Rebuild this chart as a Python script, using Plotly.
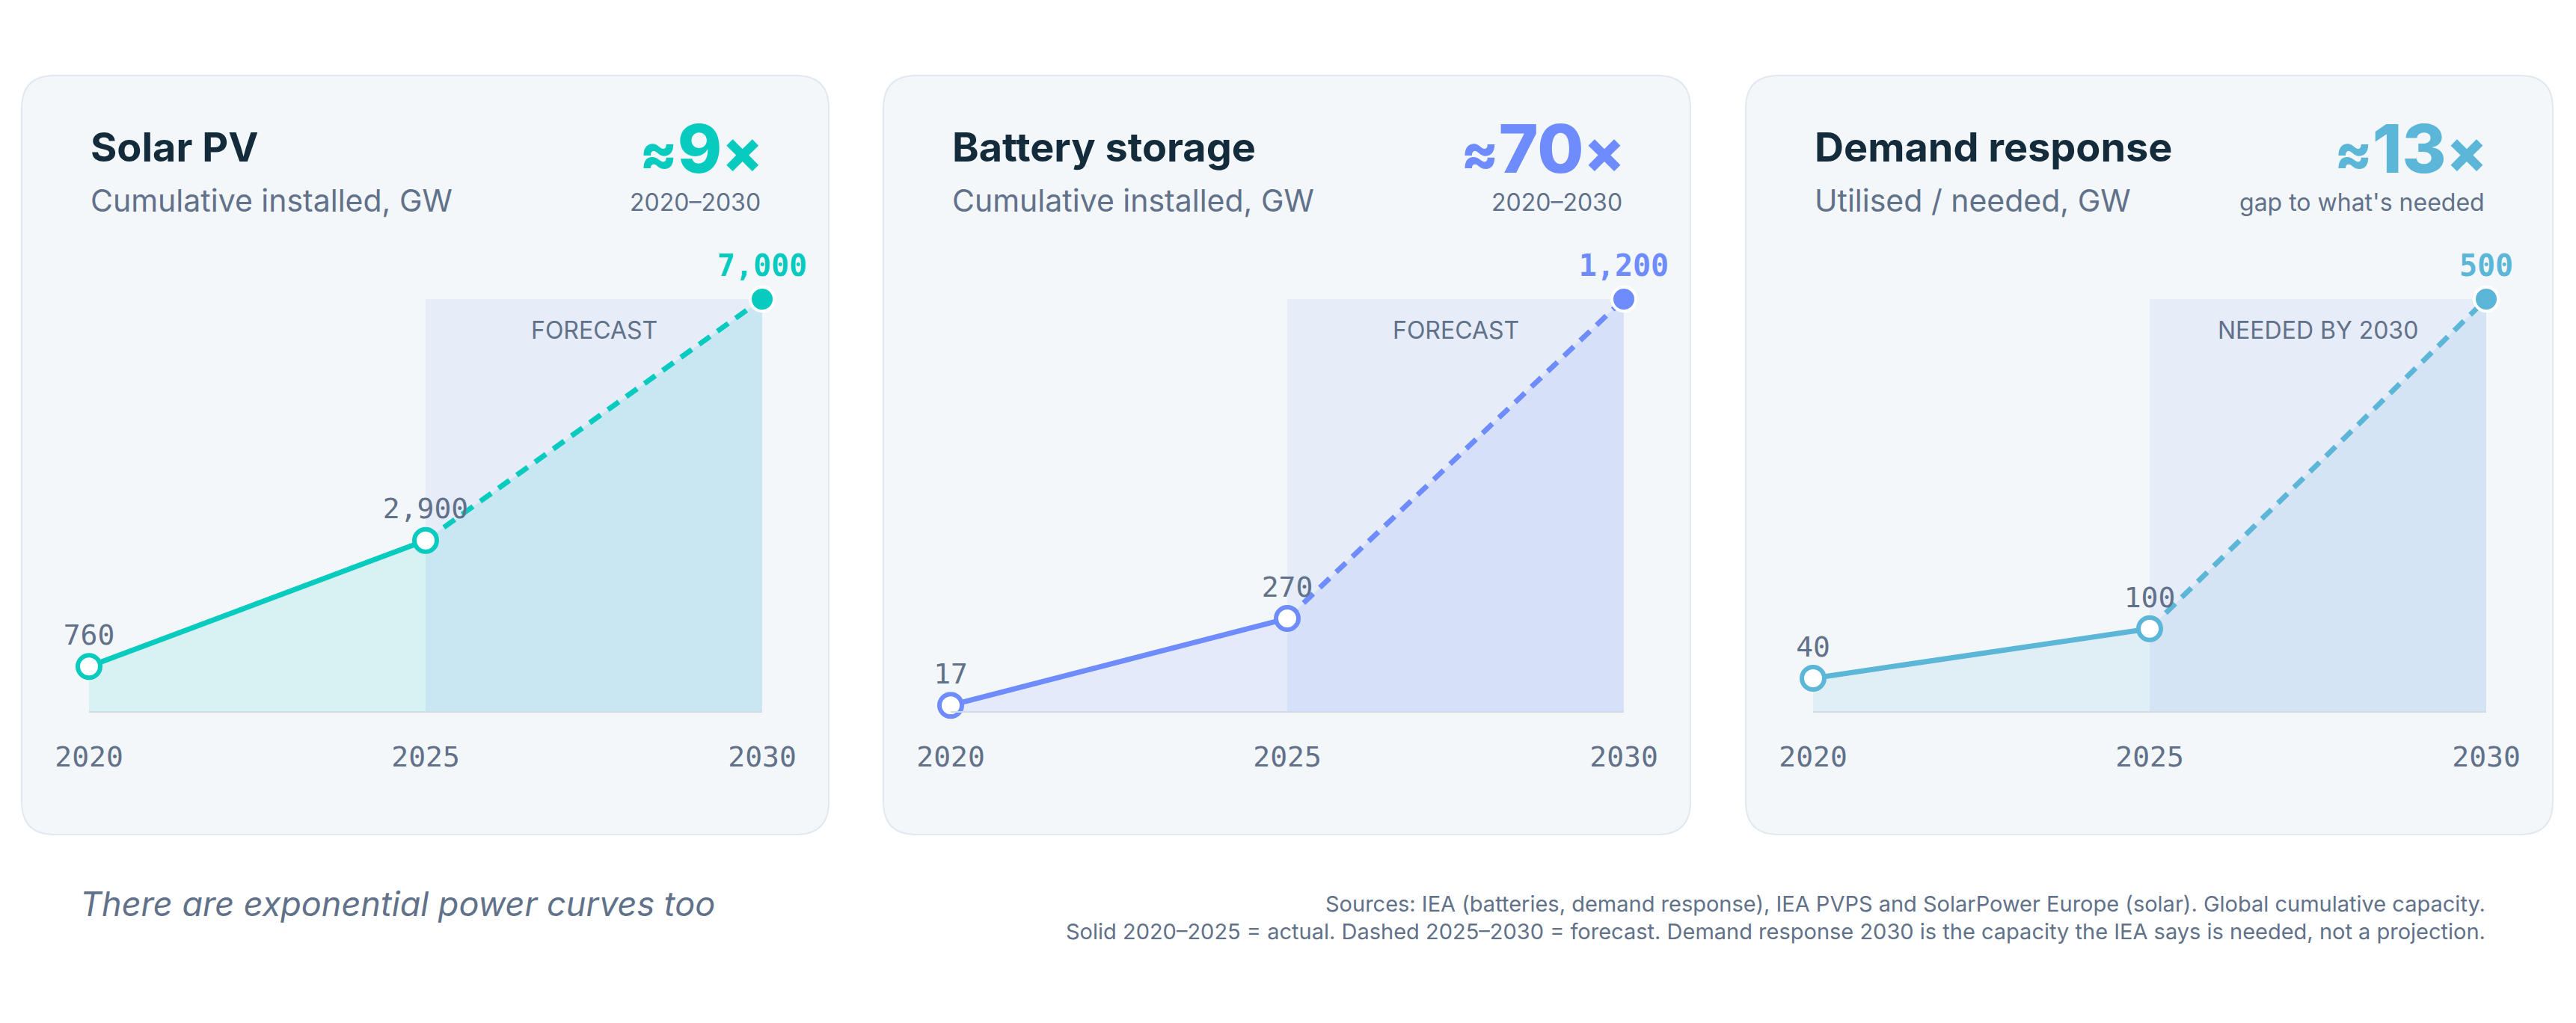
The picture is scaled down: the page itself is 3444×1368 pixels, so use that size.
import plotly.graph_objects as go

W, H = 3444, 1368

# ---------------- data ----------------
years = [2020, 2025, 2030]
year_labels = ["2020", "2025", "2030"]

solar_values = [760, 2900, 7000]
solar_labels = ["760", "2,900", "7,000"]

battery_values = [17, 270, 1200]
battery_labels = ["17", "270", "1,200"]

demand_values = [40, 100, 500]
demand_labels = ["40", "100", "500"]

titles = ["Solar PV", "Battery storage", "Demand response"]
subtitles = ["Cumulative installed, GW", "Cumulative installed, GW", "Utilised / needed, GW"]
multipliers = ["9", "70", "13"]
multiplier_notes = ["2020–2030", "2020–2030", "gap to what's needed"]
band_labels = ["FORECAST", "FORECAST", "NEEDED BY 2030"]

footer_title = "There are exponential power curves too"
source_lines = [
    "Sources: IEA (batteries, demand response), IEA PVPS and SolarPower Europe (solar). Global cumulative capacity.",
    "Solid 2020–2025 = actual. Dashed 2025–2030 = forecast. Demand response 2030 is the capacity the IEA says is needed, not a projection.",
]

# ---------------- styles ----------------
SANS = "Inter, 'Noto Sans', sans-serif"
MONO = "'DejaVu Sans Mono', 'Liberation Mono', monospace"
DARK = "#132b3a"
SLATE = "#617189"
card_fill = "#f3f7fa"
card_line = "#e1e8ef"
band_fill = "#e6ecf8"

series = [
    dict(values=solar_values, labels=solar_labels, color="#07cbbf",
         fill_a="#d8f2f3", fill_f="#c9e7f2"),
    dict(values=battery_values, labels=battery_labels, color="#6e8cfd",
         fill_a="#e5eafa", fill_f="#d6e0f8"),
    dict(values=demand_values, labels=demand_labels, color="#5bb6d8",
         fill_a="#e0eef6", fill_f="#d5e4f4"),
]

card_lefts = [29, 1181, 2334]
card_w = 1079
card_top, card_bot = 101, 1116
plot_pad_l, plot_w = 90, 900
base_py, top_py = 951, 400


def px(x):
    return x / W


def py(y):
    return 1 - y / H


def rounded_rect(x0, y0, x1, y1, r):
    X0, X1 = px(x0), px(x1)
    Y0, Y1 = py(y0), py(y1)  # Y0 top (higher), Y1 bottom
    rx, ry = r / W, r / H
    return (f"M {X0+rx},{Y0} L {X1-rx},{Y0} Q {X1},{Y0} {X1},{Y0-ry} "
            f"L {X1},{Y1+ry} Q {X1},{Y1} {X1-rx},{Y1} L {X0+rx},{Y1} "
            f"Q {X0},{Y1} {X0},{Y1+ry} L {X0},{Y0-ry} Q {X0},{Y0} {X0+rx},{Y0} Z")


fig = go.Figure()
shapes = []
annotations = []
layout_axes = {}

for i, s in enumerate(series):
    left = card_lefts[i]
    right = left + card_w
    xa = "x" if i == 0 else f"x{i+1}"
    ya = "y" if i == 0 else f"y{i+1}"
    xkey = "xaxis" if i == 0 else f"xaxis{i+1}"
    ykey = "yaxis" if i == 0 else f"yaxis{i+1}"
    vals = s["values"]
    top = vals[-1]

    # card background
    shapes.append(dict(type="path", path=rounded_rect(left, card_top, right, card_bot, 44),
                       xref="paper", yref="paper", fillcolor=card_fill,
                       line=dict(color=card_line, width=2), layer="below"))
    # forecast band
    shapes.append(dict(type="rect", xref=xa, yref=ya, x0=years[1], x1=years[2], y0=0, y1=top,
                       fillcolor=band_fill, line=dict(width=0), layer="below"))

    # area fills
    fig.add_trace(go.Scatter(x=years[:2], y=vals[:2], xaxis=xa, yaxis=ya, mode="none",
                             fill="tozeroy", fillcolor=s["fill_a"], hoverinfo="skip",
                             showlegend=False))
    fig.add_trace(go.Scatter(x=years[1:], y=vals[1:], xaxis=xa, yaxis=ya, mode="none",
                             fill="tozeroy", fillcolor=s["fill_f"], hoverinfo="skip",
                             showlegend=False))
    # lines
    fig.add_trace(go.Scatter(x=years[:2], y=vals[:2], xaxis=xa, yaxis=ya, mode="lines",
                             line=dict(color=s["color"], width=7), hoverinfo="skip",
                             showlegend=False))
    fig.add_trace(go.Scatter(x=years[1:], y=vals[1:], xaxis=xa, yaxis=ya, mode="lines",
                             line=dict(color=s["color"], width=7, dash="18px,12px"),
                             hoverinfo="skip", showlegend=False))
    # markers + value labels
    texts = [s["labels"][0], s["labels"][1], "<b>" + s["labels"][2] + "</b>"]
    fig.add_trace(go.Scatter(
        x=years, y=vals, xaxis=xa, yaxis=ya, mode="markers+text",
        text=texts, textposition="top center",
        textfont=dict(family=MONO, size=[38, 38, 40], color=[SLATE, SLATE, s["color"]]),
        marker=dict(size=[30, 30, 32], color=["white", "white", s["color"]], opacity=1,
                    line=dict(color=[s["color"], s["color"], "white"], width=[6, 6, 4])),
        cliponaxis=False, hoverinfo="skip", showlegend=False))

    layout_axes[xkey] = dict(domain=[px(left + plot_pad_l), px(left + plot_pad_l + plot_w)],
                             range=[years[0], years[-1]], anchor=ya, automargin=False,
                             tickvals=years, ticktext=year_labels,
                             tickfont=dict(family=MONO, size=38, color=SLATE),
                             ticks="outside", ticklen=26, tickcolor="rgba(0,0,0,0)",
                             showgrid=False, zeroline=False, showline=True,
                             linecolor="#cfdbe6", linewidth=2, fixedrange=True)
    layout_axes[ykey] = dict(domain=[py(base_py), py(top_py)], range=[0, top], anchor=xa,
                             visible=False, fixedrange=True, automargin=False)

    # texts
    annotations.append(dict(text=titles[i], x=px(left + plot_pad_l), y=py(197),
                            xref="paper", yref="paper", xanchor="left", yanchor="middle",
                            showarrow=False,
                            font=dict(family=SANS, size=54, color=DARK, weight=700)))
    annotations.append(dict(text=subtitles[i], x=px(left + plot_pad_l), y=py(268),
                            xref="paper", yref="paper", xanchor="left", yanchor="middle",
                            showarrow=False,
                            font=dict(family=SANS, size=41, color=SLATE)))
    mult_text = ("<span style='font-size:74px'>≈</span>" + multipliers[i]
                 + "<span style='font-size:80px'>×</span>")
    annotations.append(dict(text=mult_text, x=px(left + plot_pad_l + plot_w + 3), y=py(198),
                            xref="paper", yref="paper", xanchor="right", yanchor="middle",
                            showarrow=False,
                            font=dict(family=SANS, size=90, color=s["color"], weight=800)))
    annotations.append(dict(text=multiplier_notes[i], x=px(left + plot_pad_l + plot_w), y=py(270),
                            xref="paper", yref="paper", xanchor="right", yanchor="middle",
                            showarrow=False,
                            font=dict(family=SANS, size=32, color=SLATE)))
    annotations.append(dict(text=band_labels[i], x=(years[1] + years[2]) / 2, y=py(441),
                            xref=xa, yref="paper", xanchor="center", yanchor="middle",
                            showarrow=False,
                            font=dict(family=SANS, size=32, color=SLATE)))

annotations.append(dict(text=footer_title, x=px(105), y=py(1208), xref="paper", yref="paper",
                        xanchor="left", yanchor="middle", showarrow=False,
                        font=dict(family=SANS, size=45, color=SLATE, style="italic")))
for j, line in enumerate(source_lines):
    annotations.append(dict(text=line, x=px(3325), y=py(1208 + 37 * j), xref="paper",
                            yref="paper", xanchor="right", yanchor="middle", showarrow=False,
                            font=dict(family=SANS, size=29, color=SLATE)))

fig.update_layout(width=W, height=H, margin=dict(l=0, r=0, t=0, b=0, autoexpand=False),
                  paper_bgcolor="white", plot_bgcolor="rgba(0,0,0,0)",
                  shapes=shapes, annotations=annotations, showlegend=False,
                  **layout_axes)

fig.write_html("out.html", config=dict(displayModeBar=False),
               post_script="document.body.style.margin='0';")
